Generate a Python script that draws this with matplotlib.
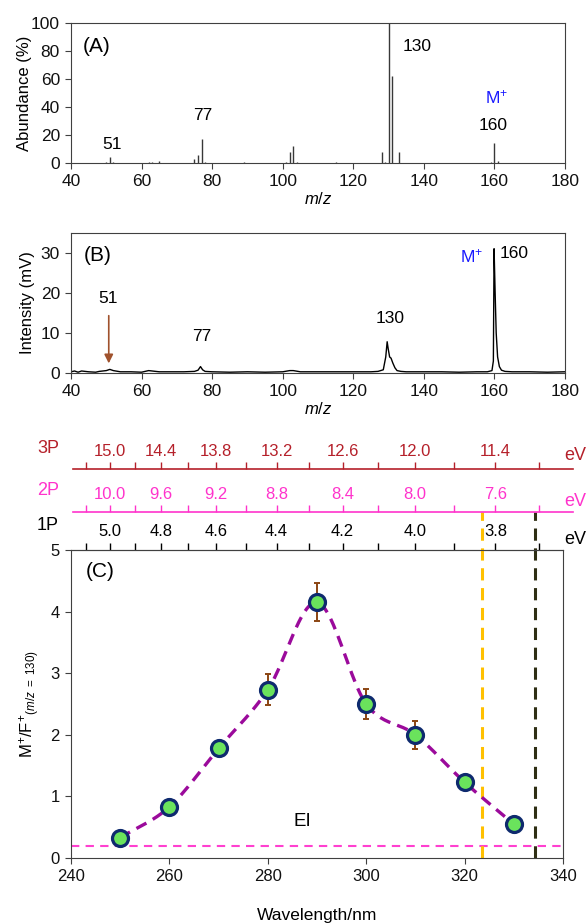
import numpy as np
import matplotlib
matplotlib.use("Agg")
import matplotlib.pyplot as plt
from matplotlib.ticker import FixedLocator, FormatStrFormatter

plt.rcParams["font.family"] = ["Liberation Sans", "DejaVu Sans"]
plt.rcParams["mathtext.fontset"] = "custom"
plt.rcParams["mathtext.rm"] = "Liberation Sans"
plt.rcParams["mathtext.it"] = "Liberation Sans:italic"
plt.rcParams["axes.edgecolor"] = "#404040"
plt.rcParams["xtick.color"] = "#404040"
plt.rcParams["ytick.color"] = "#404040"
plt.rcParams["xtick.labelcolor"] = "#111111"
plt.rcParams["ytick.labelcolor"] = "#111111"

# ---- (A) EI mass spectrum (stick) ----
mz_a = [50, 51, 52, 62, 63, 65, 75, 76, 77, 78, 89, 101, 102, 103, 104, 115,
        128, 129, 130, 131, 133, 159, 160, 161]
abund_a = [0.8, 4.5, 0.8, 0.8, 1.0, 1.2, 2.8, 5.7, 17.3, 1.0, 0.5, 0.6, 7.8, 11.8,
           0.6, 0.6, 7.8, 1.0, 100, 62, 7.8, 0.6, 14.2, 1.5]

# ---- (B) fs-laser TOF trace ----
mz_b = [40, 41, 42, 43, 45, 47, 48, 50, 51, 52, 54, 57, 60, 62, 63, 65, 68, 72,
        75, 76, 76.7, 77.3, 78, 80, 85, 90, 95, 100, 102, 103, 105, 110, 115,
        120, 125, 127, 128.5, 129.2, 129.6, 129.9, 130.3, 130.7, 131.2, 131.8,
        132.4, 133.5, 135, 140, 145, 150, 155, 158, 159.3, 159.7, 159.9, 160.2,
        160.5, 160.9, 161.4, 162, 163, 165, 170, 175, 180]
int_b = [0.3, 0.5, 0.2, 0.5, 0.3, 0.2, 0.4, 0.6, 0.9, 0.6, 0.3, 0.3, 0.2, 0.6,
         0.5, 0.3, 0.3, 0.3, 0.4, 0.7, 1.6, 0.8, 0.4, 0.3, 0.2, 0.3, 0.2, 0.3,
         0.6, 0.6, 0.3, 0.3, 0.3, 0.3, 0.3, 0.4, 0.8, 4.0, 7.8, 6.0, 4.0, 3.7,
         2.5, 1.3, 0.6, 0.4, 0.3, 0.3, 0.3, 0.2, 0.3, 0.3, 0.6, 3.0, 31.0, 20.0,
         10.0, 4.0, 1.6, 0.7, 0.4, 0.3, 0.3, 0.2, 0.3]

# ---- (C) M+/F+ ratio vs wavelength ----
wavelength = [250, 260, 270, 280, 290, 300, 310, 320, 330]
ratio = [0.33, 0.83, 1.78, 2.73, 4.15, 2.50, 2.00, 1.23, 0.55]
ratio_err = [0.05, 0.06, 0.06, 0.25, 0.31, 0.25, 0.23, 0.05, 0.05]
ei_level = 0.2
ip_lines = [323.6, 334.4]
ip_colors = ["#FFC000", "#2E2E14"]

# photon energy scales (eV) for 1, 2, 3 photons
ev_1p_major = [5.0, 4.8, 4.6, 4.4, 4.2, 4.0, 3.8]
ev_1p_minor = [5.1, 4.9, 4.7, 4.5, 4.3, 4.1, 3.9, 3.7]
HC = 1239.84

W, H = 587, 924
fig = plt.figure(figsize=(W / 100, H / 100), dpi=100)


def px_axes(l, t, r, b):
    return fig.add_axes([l / W, 1 - b / H, (r - l) / W, (b - t) / H])


def ev_func(n):
    def f(x):
        x = np.asarray(x, dtype=float)
        with np.errstate(divide="ignore"):
            return n * HC / x
    return f


def catmull_rom(x, y, n=24):
    pts = np.column_stack([x, y]).astype(float)
    p = np.vstack([2 * pts[0] - pts[1], pts, 2 * pts[-1] - pts[-2]])
    t = np.linspace(0, 1, n, endpoint=False)[:, None]
    segs = []
    for i in range(1, len(p) - 2):
        p0, p1, p2, p3 = p[i - 1], p[i], p[i + 1], p[i + 2]
        segs.append(0.5 * (2 * p1 + (-p0 + p2) * t
                           + (2 * p0 - 5 * p1 + 4 * p2 - p3) * t ** 2
                           + (-p0 + 3 * p1 - 3 * p2 + p3) * t ** 3))
    segs.append(pts[-1:])
    s = np.vstack(segs)
    return s[:, 0], s[:, 1]


# ---------------- panel A ----------------
axA = px_axes(71, 22.7, 565, 163)
axA.vlines(mz_a, 0, abund_a, color="#383838", lw=1.0)
axA.set_xlim(40, 180)
axA.set_ylim(0, 100)
axA.set_xticks(range(40, 181, 20))
axA.set_yticks(range(0, 101, 20))
axA.tick_params(direction="out", length=4, labelsize=12.5, pad=4)
axA.set_ylabel("Abundance (%)", fontsize=12, labelpad=-1)
axA.set_xlabel("$m/z$", fontsize=12, labelpad=1)
axA.text(47.4, 83, "(A)", fontsize=15, ha="center", va="center")
axA.text(51.5, 13, "51", fontsize=12.5, ha="center", va="center")
axA.text(77.3, 34, "77", fontsize=12.5, ha="center", va="center")
axA.text(138, 83, "130", fontsize=12.5, ha="center", va="center")
axA.text(160.6, 47, "M$^{+}$", fontsize=12.5, color="#1a1aff", ha="center", va="center")
axA.text(159.6, 26.5, "160", fontsize=12.5, ha="center", va="center")

# ---------------- panel B ----------------
axB = px_axes(71, 232.7, 565, 373)
axB.plot(mz_b, int_b, color="black", lw=1.0)
axB.set_xlim(40, 180)
axB.set_ylim(0, 35)
axB.set_xticks(range(40, 181, 20))
axB.set_yticks(range(0, 31, 10))
axB.tick_params(direction="out", length=4, labelsize=12.5, pad=4)
axB.set_ylabel("Intensity (mV)", fontsize=12, labelpad=4)
axB.set_xlabel("$m/z$", fontsize=12, labelpad=1)
axB.text(47.6, 29.4, "(B)", fontsize=15, ha="center", va="center")
axB.text(50.6, 18.7, "51", fontsize=12.5, ha="center", va="center")
axB.annotate("", xy=(50.7, 2.4), xytext=(50.7, 14.3),
             arrowprops=dict(arrowstyle="-|>", color="#A0522D", lw=1.2,
                             mutation_scale=13, shrinkA=0, shrinkB=0))
axB.text(77, 9.0, "77", fontsize=12.5, ha="center", va="center")
axB.text(130.4, 13.7, "130", fontsize=12.5, ha="center", va="center")
axB.text(153.6, 29.0, "M$^{+}$", fontsize=12.5, color="#1a1aff", ha="center", va="center")
axB.text(165.5, 29.7, "160", fontsize=12.5, ha="center", va="center")

# ---------------- panel C ----------------
axC = px_axes(71, 550, 563, 858)
xs, ys = catmull_rom(wavelength, ratio)
axC.plot(xs, ys, color="#9B0A9B", lw=2.4, dashes=(3.4, 2.2), zorder=2)
axC.errorbar(wavelength, ratio, yerr=ratio_err, fmt="none", ecolor="#8B4513",
             elinewidth=1.4, capsize=2.5, capthick=1.4, zorder=3)
axC.plot(wavelength, ratio, "o", ms=11.5, mfc="#6AE35C", mec="#0E2A6E", mew=2.3, zorder=4)
axC.axhline(ei_level, color="#FF40D0", lw=1.5, dashes=(4, 3), zorder=1)
for xv, c in zip(ip_lines, ip_colors):
    axC.axvline(xv, ymin=0, ymax=1.125, color=c, lw=2.2, dashes=(4, 2.5), clip_on=False, zorder=1)
axC.text(287, 0.6, "EI", fontsize=13.5, ha="center", va="center")
axC.text(245.9, 4.65, "(C)", fontsize=15, ha="center", va="center")
axC.set_xlim(240, 340)
axC.set_ylim(0, 5)
axC.set_xticks(range(240, 341, 20))
axC.set_yticks(range(0, 6))
axC.tick_params(direction="out", length=4, labelsize=12, pad=4)
axC.set_xlabel("Wavelength/nm", fontsize=12.5, labelpad=17)
axC.set_ylabel("M$^{+}$/F$^{+}$$_{(m/z\\ =\\ 130)}$", fontsize=12, labelpad=6)

# photon energy scales
scales = [(1, 1.0, "black", "1P", 1.081, 1.0325),
          (2, 1.1234, "#FF33CC", "2P", 1.1948, 1.156),
          (3, 1.263, "#B5202A", "3P", 1.331, 1.3084)]
for n, loc, color, name, name_y, ev_y in scales:
    sec = axC.secondary_xaxis(loc if n > 1 else "top", functions=(ev_func(n), ev_func(n)))
    sec.xaxis.set_major_locator(FixedLocator([n * e for e in ev_1p_major]))
    sec.xaxis.set_minor_locator(FixedLocator([n * e for e in ev_1p_minor]))
    sec.xaxis.set_major_formatter(FormatStrFormatter("%.1f"))
    sec.tick_params(axis="x", which="both", direction="out", length=5, width=1,
                    colors=color, labelsize=12, pad=2 if n > 1 else 3)
    if n > 1:
        sec.spines["top"].set_visible(False)
        axC.plot([0.004, 1.02], [loc, loc], color=color, lw=1.2,
                 transform=axC.transAxes, clip_on=False)
    axC.text(-0.0467, name_y, name, fontsize=13, color=color, ha="center", va="center",
             transform=axC.transAxes)
    axC.text(1.024, ev_y, "eV", fontsize=13, color=color, ha="center", va="center",
             transform=axC.transAxes)

fig.savefig("out.png", dpi=100)
